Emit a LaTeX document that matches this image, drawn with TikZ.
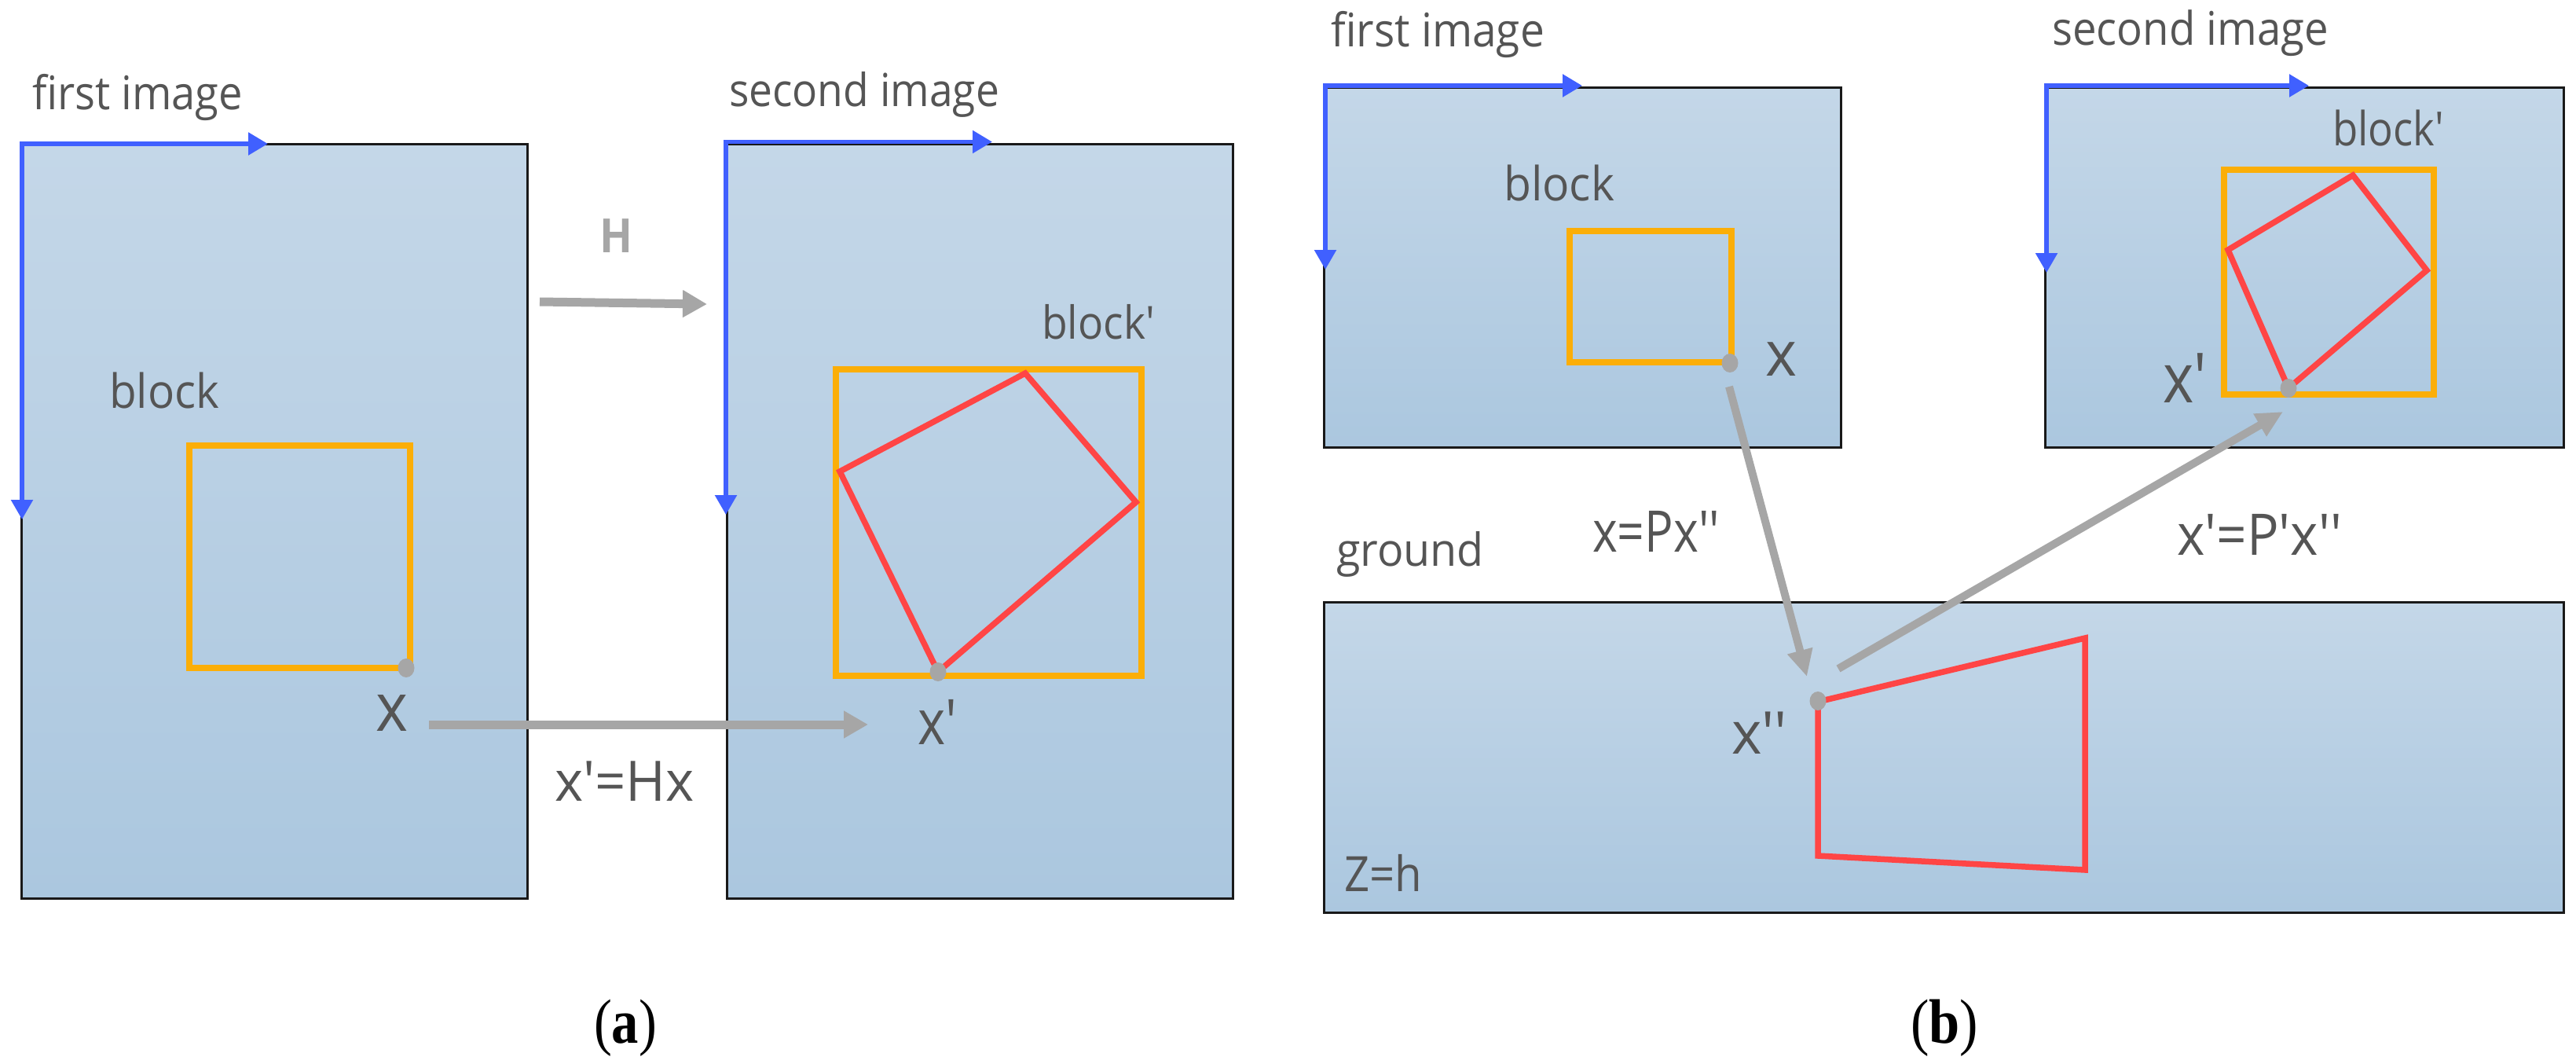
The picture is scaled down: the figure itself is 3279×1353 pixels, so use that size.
\documentclass[tikz,border=0pt]{standalone}
\usepackage{fontspec}
\usepackage{graphicx}
\usetikzlibrary{arrows.meta,shapes.geometric}
\newfontfamily\lab{Open Sans}
\newfontfamily\capf{Liberation Serif}
\definecolor{txtc}{HTML}{555555}
\definecolor{arrc}{HTML}{A6A6A6}
\definecolor{axc}{HTML}{4060FF}
\definecolor{orc}{HTML}{FBAE08}
\definecolor{redc}{HTML}{FF4545}
\definecolor{ptop}{HTML}{C4D7E8}
\definecolor{pbot}{HTML}{ABC7DF}
\tikzset{
  panel/.style={rectangle,draw=black!90,line width=3pt,top color=ptop,bottom color=pbot,anchor=north west,inner sep=0pt,outer sep=0pt},
  lbl/.style={anchor=base west,inner sep=0pt,outer sep=0pt,text=txtc},
  caplbl/.style={anchor=base west,inner sep=0pt,outer sep=0pt,text=black},
  axisline/.style={draw=axc,line width=5.5pt,line join=miter,{Triangle[length=25pt,width=28pt,fill=axc]}-{Triangle[length=25pt,width=27pt,fill=axc]}},
  conn/.style={draw=arrc,line width=11pt,-{Triangle[length=31pt,width=33pt,fill=arrc]}},
  connthin/.style={draw=arrc,line width=10pt,-{Triangle[length=34pt,width=31pt,fill=arrc]}},
  blockbox/.style={rectangle,draw=orc,line width=8pt,anchor=north west,inner sep=0pt,outer sep=0pt},
  redshape/.style={draw=redc,line width=7.5pt,line join=miter},
  pt/.style={ellipse,fill=arrc,inner sep=0pt,minimum width=21pt,minimum height=24pt},
}
\newcommand{\lb}[6]{\node[lbl] (#1) at (#2,#3) {\resizebox{#4pt}{\height}{\lab\fontsize{#5pt}{#5pt}\selectfont #6}};}
\newcommand{\cp}[5]{\node[caplbl] (#1) at (#2,#3) {\resizebox{#4pt}{\height}{\capf\fontsize{80pt}{80pt}\selectfont (\textbf{#5})}};}
\begin{document}
\begin{tikzpicture}[x=1pt,y=-1pt]
\useasboundingbox (0,0) rectangle (3279,1353);
% panels
\node[panel,minimum width=644pt,minimum height=960pt] (a1) at (27,183) {};
\node[panel,minimum width=644pt,minimum height=960pt] (a2) at (925,183) {};
\node[panel,minimum width=658pt,minimum height=458pt] (b1) at (1685,111) {};
\node[panel,minimum width=660pt,minimum height=458pt] (b2) at (2603,111) {};
\node[panel,minimum width=1578pt,minimum height=395pt] (g) at (1685,766) {};
% axes
\coordinate (a1o) at (28,183); \coordinate (a1r) at (341,183); \coordinate (a1d) at (28,661);
\coordinate (a2o) at (924,180.5); \coordinate (a2r) at (1263,180.5); \coordinate (a2d) at (924,655);
\coordinate (b1o) at (1687,109); \coordinate (b1r) at (2014,109); \coordinate (b1d) at (1687,343);
\coordinate (b2o) at (2605,109); \coordinate (b2r) at (2939,109); \coordinate (b2d) at (2605,347);
\foreach \o/\r/\d in {a1o/a1r/a1d,a2o/a2r/a2d,b1o/b1r/b1d,b2o/b2r/b2d}{
  \draw[axisline] (\r) -- (\o) -- (\d);
}
% blocks
\node[blockbox,minimum width=281pt,minimum height=283pt] (ba) at (241,567) {};
\node[blockbox,minimum width=389pt,minimum height=390pt] (bap) at (1064,470) {};
\node[blockbox,minimum width=206pt,minimum height=167pt] (bb) at (1998,294) {};
\node[blockbox,minimum width=267pt,minimum height=286pt] (bbp) at (2831,216) {};
% red shapes
\draw[redshape] (1069,600) -- (1305,475) -- (1446,639) -- (1194,855) -- cycle;
\draw[redshape] (2836,318) -- (2995,223) -- (3089,344) -- (2913,494) -- cycle;
\draw[redshape] (2314,893) -- (2654,812) -- (2654,1107) -- (2314,1089) -- cycle;
% points
\node[pt] (pa) at (517,850) {};
\node[pt] (pap) at (1194,855) {};
\node[pt] (pb) at (2202,462) {};
\node[pt] (pbp) at (2913,494) {};
\node[pt] (pg) at (2314,892) {};
% connectors
\coordinate (h1) at (687,384); \coordinate (h2) at (900,387);
\draw[conn] (h1) -- (h2);
\coordinate (xs) at (546,922); \coordinate (xe) at (1105,922);
\draw[conn] (xs) -- (xe);
\coordinate (p1s) at (2201,492); \coordinate (p1e) at (2300,861);
\draw[connthin] (p1s) -- (p1e);
\coordinate (p2s) at (2340,851); \coordinate (p2e) at (2906,524);
\draw[connthin] (p2s) -- (p2e);
% labels
\lb{t1}{41}{139}{268}{59}{first image}
\lb{t2}{928}{135}{344}{58}{second image}
\lb{t3}{139}{519}{140}{60}{block}
\lb{t4}{1326}{431}{144}{58}{block'}
\node[lbl,text=arrc] (tH) at (763,321) {\resizebox{42pt}{\height}{\lab\bfseries\fontsize{60pt}{60pt}\selectfont H}};
\lb{t5}{478}{930}{41}{86}{x}
\lb{t6}{1168}{947}{50}{80}{x'}
\lb{t7}{706}{1019}{178}{71}{x'=Hx}
\cp{ca}{756}{1327}{80}{a}
\lb{t8}{1694}{59}{272}{59}{first image}
\lb{t9}{2612}{57}{352}{59}{second image}
\lb{t10}{1914}{255}{141}{60}{block}
\lb{t11}{2969}{185}{142}{60}{block'}
\lb{t12}{2247}{478}{40}{80}{x}
\lb{t13}{2753}{512}{56}{88}{x'}
\lb{t14}{1701}{720}{188}{58}{ground}
\lb{t15}{2027}{702}{162}{73}{x=Px''}
\lb{t16}{2771}{706}{210}{73}{x'=P'x''}
\lb{t17}{2204}{959}{71}{75}{x''}
\lb{t18}{1711}{1134}{99}{62}{Z=h}
\cp{cb}{2432}{1327}{86}{b}
\end{tikzpicture}
\end{document}
